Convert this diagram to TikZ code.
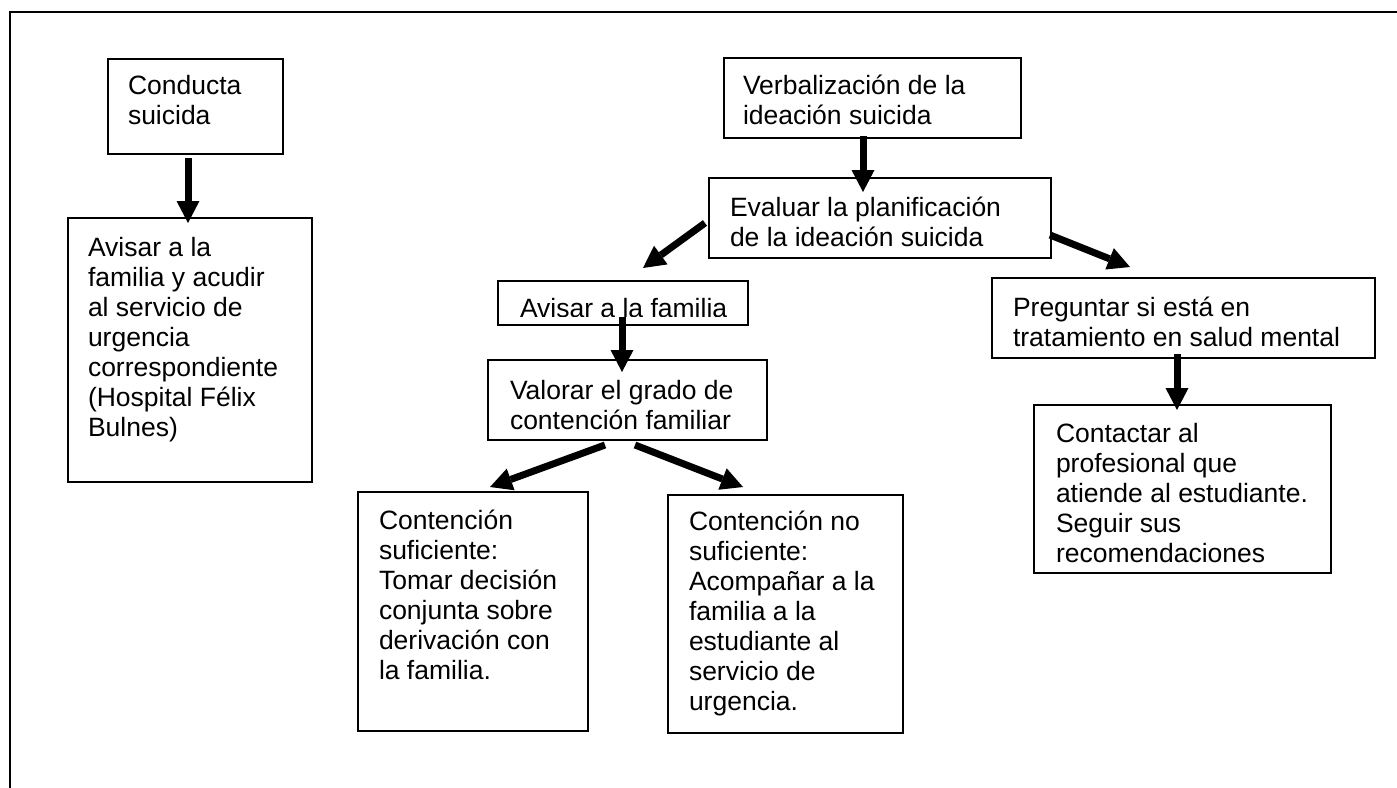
\documentclass[tikz,border=0pt]{standalone}
\usepackage{fontspec}
\setmainfont{Liberation Sans}
\usetikzlibrary{arrows.meta}
\tikzset{
  box/.style={draw=black, line width=1.5pt, anchor=north west, inner sep=0pt, outer sep=0pt, fill=none},
  txt/.style={anchor=north west, inner sep=0pt, outer sep=0pt, align=left, font={\fontsize{26.5pt}{30pt}\selectfont}},
  bigarrow/.style={line width=7pt, line cap=butt, -{Triangle[width=23pt,length=22pt,line width=0pt]}},
  frame/.style={line width=2pt}
}
\newcommand{\fs}{\rule{0pt}{25pt}}
\begin{document}
\begin{tikzpicture}[x=1pt,y=-1pt]
\fill[white] (0,0) rectangle (1397,787);
\useasboundingbox (0,0) rectangle (1397,787);
% frame
\coordinate (fbl) at (10,790);
\coordinate (ftl) at (10,12);
\coordinate (ftr) at (1400,12);
\draw[frame] (fbl) -- (ftl) -- (ftr);

% boxes
\node[box, minimum width=175pt, minimum height=95pt] (conducta) at (108,59) {};
\node[box, minimum width=244pt, minimum height=264pt] (avisarL) at (68,218) {};
\node[box, minimum width=297pt, minimum height=80pt] (verbal) at (724,58) {};
\node[box, minimum width=342pt, minimum height=80pt] (evaluar) at (709,178) {};
\node[box, minimum width=250pt, minimum height=44pt] (avisarF) at (498,281) {};
\node[box, minimum width=279pt, minimum height=80pt] (valorar) at (488,360) {};
\node[box, minimum width=230pt, minimum height=239pt] (contS) at (358,492) {};
\node[box, minimum width=235pt, minimum height=238pt] (contN) at (668,495) {};
\node[box, minimum width=383pt, minimum height=80pt] (preg) at (992,278) {};
\node[box, minimum width=297pt, minimum height=168pt] (contact) at (1034,405) {};

% texts
\node[txt] (t1) at (128,69) {\fs Conducta\\suicida};
\node[txt] (t2) at (88,231) {\fs Avisar a la\\familia y acudir\\al servicio de\\urgencia\\correspondiente\\(Hospital Félix\\Bulnes)};
\node[txt] (t3) at (743,69) {\fs Verbalización de la\\ideación suicida};
\node[txt] (t4) at (730,191) {\fs Evaluar la planificación\\de la ideación suicida};
\begin{scope}
\clip (499,282) rectangle (747,316);
\node[txt] (t5) at (520,292) {\fs Avisar a la familia};
\end{scope}
\node[txt] (t6) at (510,374) {\fs Valorar el grado de\\contención familiar};
\node[txt] (t7) at (379,504) {\fs Contención\\suficiente:\\Tomar decisión\\conjunta sobre\\derivación con\\la familia.};
\node[txt] (t8) at (689,505) {\fs Contención no\\suficiente:\\Acompañar a la\\familia a la\\estudiante al\\servicio de\\urgencia.};
\node[txt] (t9) at (1013,291) {\fs Preguntar si está en\\tratamiento en salud mental};
\node[txt] (t10) at (1056,417) {\fs Contactar al\\profesional que\\atiende al estudiante.\\Seguir sus\\recomendaciones};

% arrows
\draw[bigarrow] ([shift={(-7.5,4)}]conducta.south) -- ([shift={(-2,5)}]avisarL.north);
\draw[bigarrow] ([shift={(-9.5,-2)}]verbal.south) -- ([shift={(-17,14)}]evaluar.north);
\draw[bigarrow] ([shift={(-4,5)}]evaluar.west) -- ([shift={(20,-13)}]avisarF.north);
\draw[bigarrow] ([shift={(-1,17)}]evaluar.east) -- ([shift={(-53.5,-11)}]preg.north);
\draw[bigarrow] ([shift={(-1,-8)}]avisarF.south) -- ([shift={(-5.5,12)}]valorar.north);
\draw[bigarrow] ([shift={(-22.5,5)}]valorar.south) -- ([shift={(17,-5)}]contS.north);
\draw[bigarrow] ([shift={(7.5,5)}]valorar.south) -- ([shift={(-42.5,-8)}]contN.north);
\draw[bigarrow] ([shift={(-6.5,-4)}]preg.south) -- ([shift={(-5.5,5)}]contact.north);
\end{tikzpicture}
\end{document}
